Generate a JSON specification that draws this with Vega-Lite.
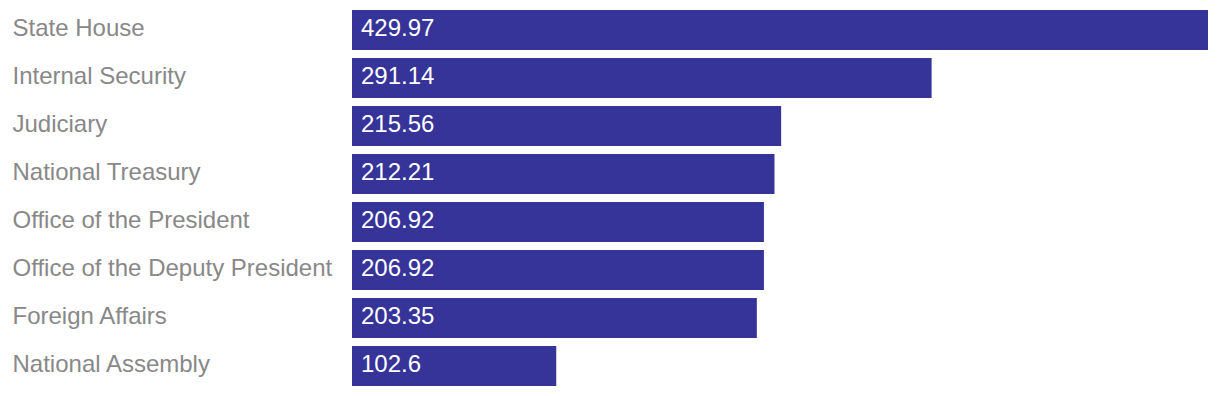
{
  "$schema": "https://vega.github.io/schema/vega-lite/v6.json",
  "autosize": "none",
  "width": 856,
  "height": 384,
  "padding": {"left": 352, "top": 6, "right": 12, "bottom": 6},
  "background": "white",
  "config": {"view": {"stroke": null}, "font": "Liberation Sans"},
  "data": {"values": [
    {"ministry": "State House", "value": 429.97},
    {"ministry": "Internal Security", "value": 291.14},
    {"ministry": "Judiciary", "value": 215.56},
    {"ministry": "National Treasury", "value": 212.21},
    {"ministry": "Office of the President", "value": 206.92},
    {"ministry": "Office of the Deputy President", "value": 206.92},
    {"ministry": "Foreign Affairs", "value": 203.35},
    {"ministry": "National Assembly", "value": 102.6}
  ]},
  "encoding": {
    "y": {"field": "ministry", "type": "nominal", "sort": null,
      "scale": {"paddingInner": 0.1667, "paddingOuter": 0.0833},
      "axis": {"title": null, "ticks": false, "domain": false, "labelAlign": "left", "labelPadding": 340,
        "labelFontSize": 24, "labelColor": "#888888", "labelLimit": 400, "labelBaseline": "alphabetic", "labelOffset": 6, "labelFont": "Liberation Sans"}},
    "x": {"field": "value", "type": "quantitative", "scale": {"domain": [0, 429.97], "nice": false, "zero": true}, "axis": null}
  },
  "layer": [
    {"mark": {"type": "bar", "color": "#363499"}},
    {"mark": {"type": "text", "align": "left", "baseline": "alphabetic", "dx": 9, "dy": 6, "fontSize": 24, "color": "white", "font": "Liberation Sans"},
      "encoding": {"x": {"datum": 0, "type": "quantitative"}, "text": {"field": "value", "type": "quantitative"}}}
  ]
}
